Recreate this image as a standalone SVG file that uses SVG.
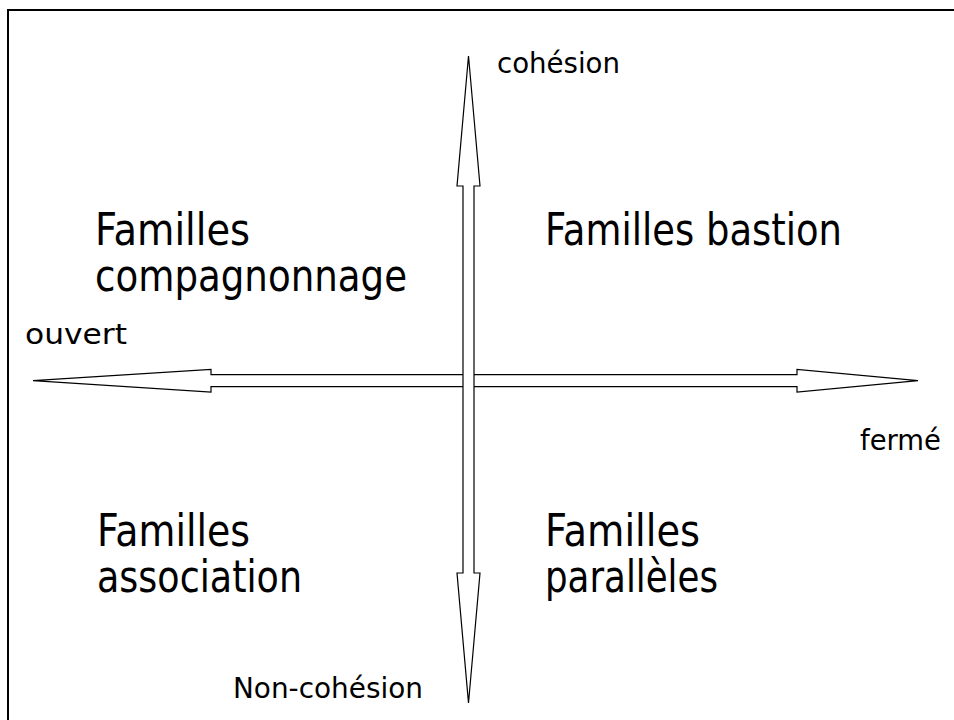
<svg xmlns="http://www.w3.org/2000/svg" width="954" height="720" viewBox="0 0 954 720">
<style>
.frame{fill:none;stroke:#000;stroke-width:2}
.arrow{fill:#fff;stroke:#000;stroke-width:1.2;stroke-linejoin:miter}
.big{font-family:"DejaVu Sans",Tahoma,sans-serif;font-size:44px;fill:#000}
.small{font-family:"DejaVu Sans",Tahoma,sans-serif;font-size:29px;fill:#000}
</style>
<rect width="954" height="720" fill="#fff"/>
<path class="frame" d="M8,730 V10 H960"/>
<g id="connectors">
<polygon id="axis-horizontal" class="arrow" points="33,380.7 211,369.3 211,374.6 797,374.6 797,369.3 918,380.7 797,392.2 797,386.6 211,386.6 211,392.2"/>
<polygon id="axis-vertical" class="arrow" points="468.5,56 480,186 474,186 474,573 480,573 468.5,703 457,573 463,573 463,186 457,186"/>
</g>
<g id="label-cohesion"><text class="small" x="497" y="73" textLength="123" lengthAdjust="spacingAndGlyphs">cohésion</text></g>
<g id="label-non-cohesion"><text class="small" x="233" y="698" textLength="190" lengthAdjust="spacingAndGlyphs">Non-cohésion</text></g>
<g id="label-ouvert"><text class="small" x="25" y="344" textLength="102" lengthAdjust="spacingAndGlyphs">ouvert</text></g>
<g id="label-ferme"><text class="small" x="860" y="450" textLength="81" lengthAdjust="spacingAndGlyphs">fermé</text></g>
<g id="node-compagnonnage">
<text class="big" x="95" y="245" textLength="155" lengthAdjust="spacingAndGlyphs">Familles</text>
<text class="big" x="95" y="291" textLength="312" lengthAdjust="spacingAndGlyphs">compagnonnage</text>
</g>
<g id="node-bastion">
<text class="big" x="545" y="245" textLength="297" lengthAdjust="spacingAndGlyphs">Familles bastion</text>
</g>
<g id="node-association">
<text class="big" x="97" y="546" textLength="153" lengthAdjust="spacingAndGlyphs">Familles</text>
<text class="big" x="97" y="592" textLength="205" lengthAdjust="spacingAndGlyphs">association</text>
</g>
<g id="node-paralleles">
<text class="big" x="545" y="546" textLength="155" lengthAdjust="spacingAndGlyphs">Familles</text>
<text class="big" x="545" y="592" textLength="173" lengthAdjust="spacingAndGlyphs">parallèles</text>
</g>
</svg>
